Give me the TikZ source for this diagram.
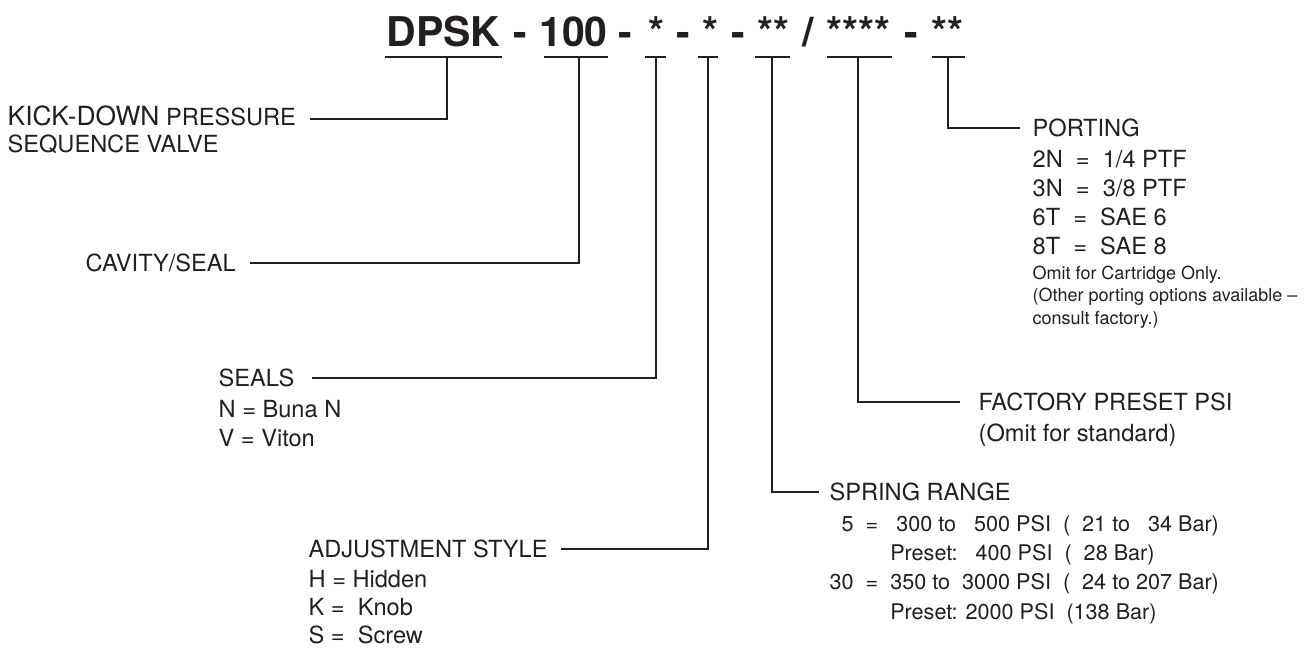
\documentclass[tikz,border=0pt]{standalone}
\usepackage{fontspec}
\setmainfont{TeX Gyre Heros}
\usepackage{xcolor}
\usetikzlibrary{positioning}
\definecolor{ink}{RGB}{35,31,32}

\begin{document}
\begin{tikzpicture}[
    x=0.5pt, y=-0.5pt,
    color=ink, line width=0.65pt,
    code/.style={anchor=base, inner sep=0pt, font=\fontsize{20.5}{24}\selectfont\bfseries},
    head/.style={anchor=west, inner sep=0pt, text height=8.5pt, text depth=0pt, font=\fontsize{11.8}{14.5}\selectfont},
    opts/.style={anchor=north west, inner sep=0pt, align=left, font=\fontsize{11.8}{14.5}\selectfont},
    note/.style={anchor=north west, inner sep=0pt, align=left, font=\fontsize{9}{11.25}\selectfont},
    lead/.style={shorten >=7pt}
]
    \useasboundingbox (0,0) rectangle (1316,649);

    % Model code
    \node[code] (cDPSK) at (443.5,46) {DPSK};
    \node[code] (sep1) at (520,46) {-};
    \node[code] (c100) at (573.5,46) {100};
    \node[code] (sep2) at (625.5,46) {-};
    \node[code] (cSeal) at (656.5,46) {*};
    \node[code] (sep3) at (683.5,46) {-};
    \node[code] (cAdj) at (710.5,46) {*};
    \node[code] (sep4) at (738.5,46) {-};
    \node[code] (cSpring) at (773,46) {**};
    \node[code] (sep5) at (808.5,46) {/};
    \node[code] (cPreset) at (858.5,46) {****};
    \node[code] (sep6) at (911.5,46) {-};
    \node[code] (cPort) at (947,46) {**};

    % Underlines
    \draw (385,57) -- (502,57);  \coordinate (tDPSK) at (447,57);
    \draw (544,57) -- (608,57);  \coordinate (t100) at (579,57);
    \draw (645,57) -- (666,57);  \coordinate (tSeal) at (656,57);
    \draw (698,57) -- (718,57);  \coordinate (tAdj) at (708,57);
    \draw (755,57) -- (790,57);  \coordinate (tSpring) at (772,57);
    \draw (827,57) -- (892,57);  \coordinate (tPreset) at (858,57);
    \draw (932,57) -- (965,57);  \coordinate (tPort) at (948,57);

    % Left labels
    \node[head, text height=6pt] (kick) at (7,119) {{\fontsize{13.2}{15}\selectfont KICK-DOWN} PRESSURE};
    \node[head, anchor=base west] (valve) at ([yshift=-13.5pt]kick.base west) {SEQUENCE VALVE};

    \node[head] (cavity) at (85,263) {CAVITY/SEAL};

    \node[head] (seals) at (218,378) {SEALS};
    \node[opts, below=6pt of seals.south west, anchor=north west] (sealsopt) {N = Buna N\\V = Viton};

    \node[head] (adjust) at (308,549) {ADJUSTMENT STYLE};
    \node[opts, font=\fontsize{11.8}{14}\selectfont, below=5.5pt of adjust.south west, anchor=north west] (adjustopt)
        {H = Hidden\\K =\ \ Knob\\S =\ \ Screw};

    % Right labels
    \node[head] (spring) at (829,492) {SPRING RANGE};
    \node[opts, font=\fontsize{10.8}{14.6}\selectfont, below=6.8pt of spring.south west, anchor=north west] (springopt)
        {\hphantom{3}5\ \ =\ \ \ 300 to\ \ \ 500 PSI\ \ (\ \ 21 to\ \ \ 34 Bar)\\
         \hphantom{30\ \ =\ \ }Preset:\ \ \ 400 PSI\ \ (\ \ 28 Bar)\\
         30\ \ =\ \ 350 to\ \ 3000 PSI\ \ (\ \ 24 to 207 Bar)\\
         \hphantom{30\ \ =\ \ }Preset: 2000 PSI\ \ (138 Bar)};

    \node[head] (factory) at (978,402) {FACTORY PRESET PSI};
    \node[opts, below=6pt of factory.south west, anchor=north west] (factoryopt) {(Omit for standard)};

    \node[head] (porting) at (1032,128) {PORTING};
    \node[opts, below=6pt of porting.south west, anchor=north west] (portopt)
        {2N\ \ =\ \ 1/4 PTF\\3N\ \ =\ \ 3/8 PTF\\6T\ \ =\ \ SAE 6\\8T\ \ =\ \ SAE 8};
    \node[note, below=5pt of portopt.south west, anchor=north west] (portnote)
        {Omit for Cartridge Only.\\(Other porting options available --\\consult factory.)};

    % Connections
    \draw[lead, shorten >=6.5pt] (tDPSK) |- (kick.east);
    \draw[lead] (t100) |- (cavity.east);
    \draw[lead, shorten >=8.5pt] (tSeal) |- (seals.east);
    \draw[lead, shorten >=6.5pt] (tAdj) |- (adjust.east);
    \draw[lead, shorten >=5pt] (tSpring) |- (spring.west);
    \draw[lead, shorten >=9pt] (tPreset) |- (factory.west);
    \draw[lead, shorten >=6pt] (tPort) |- (porting.west);
\end{tikzpicture}
\end{document}
